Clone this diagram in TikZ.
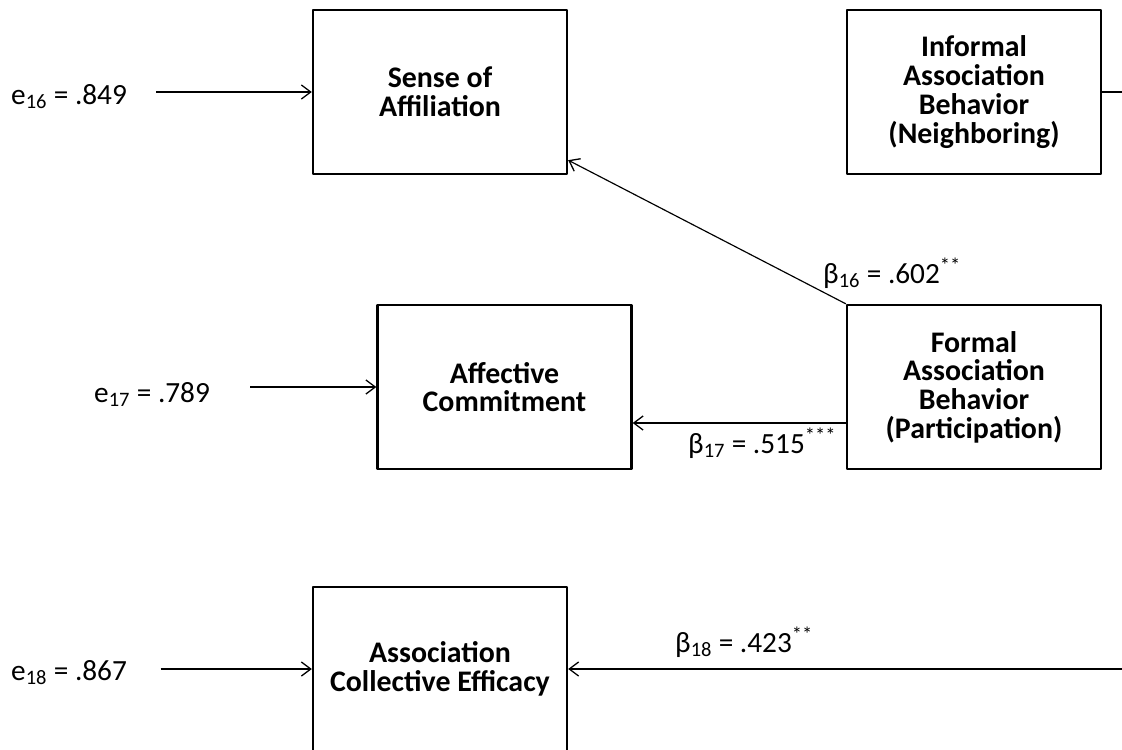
\documentclass[tikz,border=0pt]{standalone}
\usepackage{fontspec}
\setmainfont{Carlito}
\usetikzlibrary{arrows.meta}
\tikzset{
  box/.style={draw, line width=2pt, minimum width=7.62cm, minimum height=4.92cm,
    align=center, inner sep=2pt, font=\fontsize{25.5}{24.5}\selectfont\bfseries},
  coef/.style={inner sep=0pt, anchor=base west},
  path/.style={line width=1pt}
}
\begin{document}
\begin{tikzpicture}[x=0.03cm, y=-0.03cm, font=\fontsize{25}{24}\selectfont, line join=round, >={Straight Barb[length=8pt, width=12pt, line width=1.1pt]}]
\useasboundingbox (0,0) rectangle (1122,749);
\clip (0,0) rectangle (1122,749);

% Cac hop bien
\node[box] (sense) at (440,92) {Sense of\\Affiliation};
\node[box] (informal) at (974,92) {Informal\\Association\\Behavior\\(Neighboring)};
\node[box] (affective) at (504.5,387) {Affective\\Commitment};
\node[box] (formal) at (974,387) {Formal\\Association\\Behavior\\(Participation)};
\node[box] (efficacy) at (440,669) {Association\\Collective Efficacy};

% Sai so
\node[coef] (e16) at (11,104) {e\textsubscript{16} = .849};
\node[coef] (e17) at (94,402) {e\textsubscript{17} = .789};
\node[coef] (e18) at (11,680) {e\textsubscript{18} = .867};
\draw[path, ->, shorten <=0.87cm] (e16.east |- sense.west) -- (sense.west);
\draw[path, ->, shorten <=1.2cm] (e17.east |- affective.west) -- (affective.west);
\draw[path, ->, shorten <=1cm] (e18.east |- efficacy.west) -- (efficacy.west);

% He so duong dan
\coordinate (edge1) at (1122,92);
\coordinate (edge3) at (1122,669);
\draw[path] (informal.east) -- (edge1);
\draw[path, ->] (formal.north west) -- ([yshift=0.45cm]sense.south east);
\draw[path, ->] ([yshift=-1.08cm]formal.west) -- ([yshift=-1.08cm]affective.east);
\draw[path, ->] (edge3) -- (efficacy.east);
\node[coef] (b16) at (823,283) {β\textsubscript{16} = .602\textsuperscript{**}};
\node[coef] (b17) at (688,453) {β\textsubscript{17} = .515\textsuperscript{***}};
\node[coef] (b18) at (675,652) {β\textsubscript{18} = .423\textsuperscript{**}};
\end{tikzpicture}
\end{document}
